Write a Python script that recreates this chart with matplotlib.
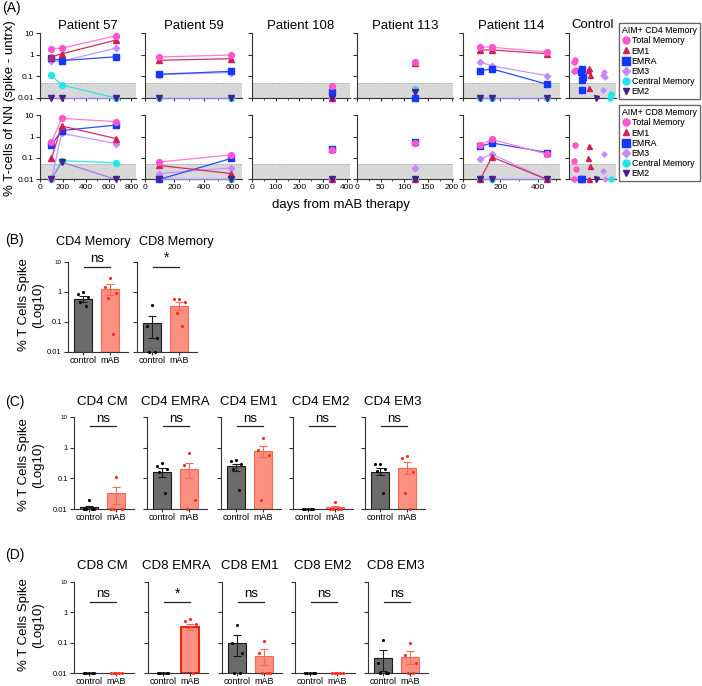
"""
Spike-specific memory T cells after mAB therapy: time courses (A) and
control vs mAB comparisons (B-D).
"""

import numpy as np
import matplotlib
matplotlib.use('Agg')
import matplotlib.pyplot as plt
from matplotlib.lines import Line2D
from matplotlib.ticker import FixedLocator, NullLocator, MultipleLocator

plt.rcParams['font.family'] = ['Liberation Sans', 'DejaVu Sans']

W, H = 702, 686

# ---------------- panel A data ----------------
SERIES = ['Total Memory', 'EM1', 'EMRA', 'EM3', 'Central Memory', 'EM2']

P57_DAYS = [100, 190, 665]
P57_CD4 = {'Total Memory': [1.9, 2.0, 7.5], 'EM1': [0.8, 1.1, 4.7],
           'EMRA': [0.68, 0.53, 0.8], 'EM3': [0.5, 0.5, 2.0],
           'Central Memory': [0.11, 0.04, 0.01], 'EM2': [0.01, 0.01, 0.01]}
P57_CD8 = {'Total Memory': [0.53, 7.0, 4.9], 'EM1': [0.095, 3.1, 0.8],
           'EMRA': [0.4, 1.9, 3.4], 'EM3': [0.01, 1.4, 0.47],
           'Central Memory': [0.01, 0.075, 0.06], 'EM2': [0.01, 0.065, 0.01]}

P59_DAYS = [95, 585]
P59_CD4 = {'Total Memory': [0.78, 0.97], 'EM1': [0.55, 0.65],
           'EMRA': [0.125, 0.17], 'EM3': [0.12, 0.15],
           'Central Memory': [0.01, 0.01], 'EM2': [0.01, 0.01]}
P59_CD8 = {'Total Memory': [0.065, 0.14], 'EM1': [0.045, 0.019],
           'EMRA': [0.01, 0.095], 'EM3': [0.019, 0.035],
           'Central Memory': [0.01, 0.01], 'EM2': [0.01, 0.01]}

P108_DAYS = [340]
P108_CD4 = {'Total Memory': [0.035], 'EM1': [0.01], 'EMRA': [0.018],
            'EM3': [0.01], 'Central Memory': [0.01], 'EM2': [0.01]}
P108_CD8 = {'Total Memory': [0.23], 'EM1': [0.01], 'EMRA': [0.26],
            'EM3': [0.01], 'Central Memory': [0.01], 'EM2': [0.01]}

P113_DAYS = [123]
P113_CD4 = {'Total Memory': [0.46], 'EM1': [0.4], 'EMRA': [0.01],
            'EM3': [0.024], 'Central Memory': [0.027], 'EM2': [0.018]}
P113_CD8 = {'Total Memory': [0.48], 'EM1': [0.01], 'EMRA': [0.53],
            'EM3': [0.035], 'Central Memory': [0.01], 'EM2': [0.01]}

P114_DAYS = [92, 155, 452]
P114_CD4 = {'Total Memory': [2.3, 2.2, 1.3], 'EM1': [1.65, 1.65, 1.1],
            'EMRA': [0.18, 0.22, 0.043], 'EM3': [0.46, 0.3, 0.107],
            'Central Memory': [0.01, 0.01, 0.01], 'EM2': [0.01, 0.01, 0.01]}
P114_CD8 = {'Total Memory': [0.4, 0.73, 0.15], 'EM1': [0.01, 0.11, 0.01],
            'EMRA': [0.35, 0.5, 0.18], 'EM3': [0.09, 0.15, 0.01],
            'Central Memory': [0.01, 0.01, 0.01], 'EM2': [0.01, 0.01, 0.01]}

PATIENTS = ['Patient 57', 'Patient 59', 'Patient 108', 'Patient 113', 'Patient 114']

CTRL_ORDER = ['Total Memory', 'EMRA', 'EM1', 'EM2', 'EM3', 'Central Memory']
CTRL_CD4 = {'Total Memory': [0.55, 0.45, 0.2, 0.17],
            'EMRA': [0.21, 0.165, 0.092, 0.068, 0.024],
            'EM1': [0.24, 0.2, 0.116, 0.028], 'EM2': [0.01],
            'EM3': [0.165, 0.116, 0.092, 0.024],
            'Central Memory': [0.0155, 0.01]}
CTRL_CD8 = {'Total Memory': [0.39, 0.073, 0.032, 0.01],
            'EMRA': [0.01, 0.01], 'EM1': [0.37, 0.095, 0.041, 0.01],
            'EM2': [0.01], 'EM3': [0.15, 0.024, 0.01],
            'Central Memory': [0.01]}

# ---------------- panels B-D data ----------------
B_TITLES = ['CD4 Memory', 'CD8 Memory']
B_CTRL_PTS = [[1.0, 0.85, 0.7, 0.45, 0.35], [0.37, 0.075, 0.03, 0.01, 0.01]]
B_MAB_PTS = [[2.9, 1.5, 0.9, 0.62, 0.039], [0.57, 0.57, 0.48, 0.2, 0.075]]
B_CTRL_MEAN = [0.58, 0.09]
B_MAB_MEAN = [1.23, 0.35]
B_CTRL_ERR = [(0.45, 0.75), (0.03, 0.16)]
B_MAB_ERR = [(0.8, 1.85), (0.25, 0.47)]
B_SIG = ['ns', '*']

C_TITLES = ['CD4 CM', 'CD4 EMRA', 'CD4 EM1', 'CD4 EM2', 'CD4 EM3']
C_CTRL_PTS = [[0.02, 0.01, 0.01, 0.01, 0.01], [0.32, 0.25, 0.2, 0.16, 0.034],
              [0.41, 0.37, 0.3, 0.2, 0.043], [0.01, 0.01, 0.01, 0.01, 0.01],
              [0.29, 0.29, 0.2, 0.17, 0.034]]
C_MAB_PTS = [[0.11, 0.01, 0.01, 0.01], [0.65, 0.27, 0.02, 0.01],
             [2.0, 0.83, 0.57, 0.02], [0.017, 0.01, 0.01, 0.01, 0.01],
             [0.55, 0.45, 0.16, 0.034, 0.01]]
C_CTRL_MEAN = [0.0115, 0.158, 0.25, 0.01, 0.165]
C_MAB_MEAN = [0.033, 0.2, 0.76, 0.0115, 0.22]
C_CTRL_ERR = [(0.01, 0.013), (0.11, 0.22), (0.17, 0.3), (0.01, 0.01), (0.13, 0.22)]
C_MAB_ERR = [(0.0147, 0.052), (0.1, 0.32), (0.48, 1.15), (0.01, 0.013), (0.14, 0.33)]
C_SIG = ['ns', 'ns', 'ns', 'ns', 'ns']

D_TITLES = ['CD8 CM', 'CD8 EMRA', 'CD8 EM1', 'CD8 EM2', 'CD8 EM3']
D_CTRL_PTS = [[0.01, 0.01, 0.01, 0.01, 0.01], [0.01, 0.01, 0.01, 0.01, 0.01],
              [0.38, 0.1, 0.044, 0.01, 0.01], [0.01, 0.01, 0.01, 0.01, 0.01],
              [0.12, 0.022, 0.01, 0.01, 0.01]]
D_MAB_PTS = [[0.01, 0.01, 0.01, 0.01, 0.01], [0.59, 0.5, 0.4, 0.34, 0.01],
             [0.11, 0.047, 0.01, 0.01, 0.01], [0.01, 0.01, 0.01, 0.01, 0.01],
             [0.1, 0.04, 0.022, 0.01, 0.01]]
D_CTRL_MEAN = [0.01, 0.01, 0.1, 0.01, 0.032]
D_MAB_MEAN = [0.01, 0.32, 0.036, 0.01, 0.034]
D_CTRL_ERR = [(0.01, 0.01), (0.01, 0.01), (0.036, 0.18), (0.01, 0.01), (0.012, 0.057)]
D_MAB_ERR = [(0.01, 0.01), (0.27, 0.4), (0.018, 0.06), (0.01, 0.01), (0.02, 0.055)]
D_SIG = ['ns', '*', 'ns', 'ns', 'ns']

# ---------------- styles ----------------
MARKER_COLOR = {'Total Memory': '#ff55cc', 'EM1': '#d11f57', 'EMRA': '#1238ff',
                'EM3': '#c48aff', 'Central Memory': '#22e5e8', 'EM2': '#4a1f8a'}
LINE_COLOR = {'Total Memory': '#ff7ad8', 'EM1': '#d0305e', 'EMRA': '#2a4cff',
              'EM3': '#c993ff', 'Central Memory': '#30e6e8', 'EM2': '#a57ce8'}
MARKER = {'Total Memory': 'o', 'EM1': '^', 'EMRA': 's', 'EM3': 'D',
          'Central Memory': 'o', 'EM2': 'v'}
MSIZE = {'Total Memory': 4.2, 'EM1': 4.2, 'EMRA': 4.5, 'EM3': 3.2,
         'Central Memory': 4.2, 'EM2': 4.2}
DRAW_ORDER = ['Central Memory', 'EM3', 'EMRA', 'EM1', 'Total Memory', 'EM2']

CTRL_BAR = '#6b6b6b'
MAB_BAR = '#fb8f80'
MAB_EDGE = '#f46a5a'
MAB_DOT = '#ff2a18'
AX_COLOR = '#333333'


def px_axes(fig, x0, y0, x1, y1):
    return fig.add_axes([x0 / W, 1 - y1 / H, (x1 - x0) / W, (y1 - y0) / H])


def log_y(ax, labels, size=6):
    ax.set_yscale('log')
    ax.set_ylim(0.01, 10)
    ax.yaxis.set_major_locator(FixedLocator([0.01, 0.1, 1, 10]))
    ax.yaxis.set_minor_locator(NullLocator())
    if labels:
        ax.set_yticklabels(['0.01', '0.1', '1', '10'], fontsize=size)
    else:
        ax.set_yticklabels([])
    for s in ['top', 'right']:
        ax.spines[s].set_visible(False)
    for s in ['left', 'bottom']:
        ax.spines[s].set_color(AX_COLOR)
        ax.spines[s].set_linewidth(0.8)
    ax.tick_params(axis='y', length=3, width=0.8, color=AX_COLOR, pad=1.5)


def time_panel(ax, days, data, xlim, step, xlabels, ylabels):
    log_y(ax, ylabels)
    ax.axhspan(0.01, 0.05, color='#d8d8d8', zorder=0, lw=0)
    ax.axhline(0.05, color='#9a9a9a', lw=0.6, ls=':', zorder=0.5)
    ax.set_xlim(*xlim)
    ax.xaxis.set_major_locator(MultipleLocator(step))
    ax.xaxis.set_minor_locator(MultipleLocator(step / 2))
    ax.tick_params(axis='x', which='major', length=2.5, width=0.8,
                   color=AX_COLOR, labelsize=6, pad=1)
    ax.tick_params(axis='x', which='minor', length=1.5, width=0.6, color=AX_COLOR)
    if not xlabels:
        ax.set_xticklabels([])
    for name in DRAW_ORDER:
        ax.plot(days, data[name], color=LINE_COLOR[name], lw=0.9,
                marker=MARKER[name], ms=MSIZE[name], mfc=MARKER_COLOR[name],
                mec=MARKER_COLOR[name], clip_on=False, zorder=3)


def control_panel(ax, data):
    log_y(ax, False)
    ax.axhspan(0.01, 0.05, color='#d8d8d8', zorder=0, lw=0)
    ax.axhline(0.05, color='#9a9a9a', lw=0.6, ls=':', zorder=0.5)
    ax.set_xlim(-0.8, 5.7)
    ax.set_xticks([])
    for i, name in enumerate(CTRL_ORDER):
        vals = data[name]
        jit = np.array([0, -0.12, 0.12, -0.06, 0.06])[:len(vals)]
        ax.plot(i + jit, vals, ls='none', marker=MARKER[name], ms=MSIZE[name] - 0.6,
                mfc=MARKER_COLOR[name], mec=MARKER_COLOR[name], clip_on=False, zorder=3)


def bar_panel(ax, ctrl_pts, mab_pts, ctrl_mean, mab_mean, ctrl_err, mab_err,
              sig, sig_y, ylabels, strong_edge=False):
    log_y(ax, ylabels, size=5.5)
    if ylabels:
        ax.get_yticklabels()[-1].set_fontsize(4.5)
    ax.set_xlim(-0.55, 1.65)
    ax.set_xticks([0, 1])
    ax.set_xticklabels(['control', 'mAB'], fontsize=6.5)
    ax.tick_params(axis='x', length=2, width=0.8, color=AX_COLOR, pad=1)

    ax.bar(0, ctrl_mean - 0.01, bottom=0.01, width=0.65, color=CTRL_BAR,
           edgecolor='#1a1a1a', lw=0.8, zorder=1)
    ax.bar(1, mab_mean - 0.01, bottom=0.01, width=0.65, color=MAB_BAR,
           edgecolor='#ff1a00' if strong_edge else MAB_EDGE,
           lw=1.4 if strong_edge else 0.8, zorder=1)

    for x, m, (lo, hi), col in [(0, ctrl_mean, ctrl_err, '#1a1a1a'),
                                (1, mab_mean, mab_err, MAB_EDGE)]:
        if hi > lo:
            ax.errorbar(x, m, yerr=[[m - lo], [hi - m]], color=col, lw=0.8,
                        capsize=3, capthick=0.8, zorder=2)

    pattern = np.array([0, -0.2, 0.2, -0.1, 0.1])
    for x, pts, col in [(0, ctrl_pts, '#000000'), (1, mab_pts, MAB_DOT)]:
        offs = pattern[:len(pts)]
        ax.scatter(x + offs, pts, s=5, color=col, zorder=4, clip_on=False, lw=0)

    ax.plot([0.05, 1.0], [sig_y, sig_y], color='#222222', lw=0.9, clip_on=False)
    ax.text(0.525, sig_y * 1.12, sig, ha='center', va='bottom',
            fontsize=9.5 if sig == 'ns' else 10, clip_on=False)


fig = plt.figure(figsize=(W / 100, H / 100), dpi=100)

# ---------------- panel A ----------------
cols = [(40, 136), (145, 242), (252, 350), (357, 453), (463, 560)]
xlims = [(0, 840), (0, 660), (0, 414), (0, 203), (0, 520)]
steps = [200, 200, 100, 50, 200]
days_all = [P57_DAYS, P59_DAYS, P108_DAYS, P113_DAYS, P114_DAYS]
cd4_all = [P57_CD4, P59_CD4, P108_CD4, P113_CD4, P114_CD4]
cd8_all = [P57_CD8, P59_CD8, P108_CD8, P113_CD8, P114_CD8]

for i, (x0, x1) in enumerate(cols):
    ax_top = px_axes(fig, x0, 33, x1, 98)
    time_panel(ax_top, days_all[i], cd4_all[i], xlims[i], steps[i], False, i == 0)
    fig.text((x0 + x1) / 2 / W, 1 - 26 / H, PATIENTS[i], ha='center',
             va='center', fontsize=9.5)
    ax_bot = px_axes(fig, x0, 115, x1, 179.5)
    time_panel(ax_bot, days_all[i], cd8_all[i], xlims[i], steps[i], True, i == 0)

ax_c4 = px_axes(fig, 569, 33, 616, 98)
control_panel(ax_c4, CTRL_CD4)
ax_c8 = px_axes(fig, 569, 115, 616, 179.5)
control_panel(ax_c8, CTRL_CD8)
fig.text(593 / W, 1 - 25 / H, 'Control', ha='center', va='center', fontsize=9.5)

handles = [Line2D([], [], ls='none', marker=MARKER[n], ms=MSIZE[n] + 0.8,
                  mfc=MARKER_COLOR[n], mec=MARKER_COLOR[n]) for n in SERIES]
for title, ytop in [('AIM+ CD4 Memory', 23), ('AIM+ CD8 Memory', 105)]:
    leg = fig.legend(handles, SERIES, title=title, loc='upper left',
                     bbox_to_anchor=(619 / W, 1 - ytop / H), borderaxespad=0,
                     fontsize=6.3, title_fontsize=6.3, frameon=True,
                     fancybox=False, edgecolor='#555555', handlelength=0.8,
                     handletextpad=0.3, labelspacing=0.14, borderpad=0.35,
                     alignment='left')
    leg.get_frame().set_linewidth(0.9)
    fig.add_artist(leg)

fig.text(2 / W, 1 - 8 / H, '(A)', ha='left', va='center', fontsize=10)
fig.text(10 / W, 1 - 108 / H, '% T-cells of NN (spike - untrx)', rotation=90,
         ha='center', va='center', fontsize=9.5)
fig.text(341 / W, 1 - 205 / H, 'days from mAB therapy', ha='center',
         va='center', fontsize=9.5)

# ---------------- panels B-D ----------------
YLAB = '% T Cells Spike\n(Log10)'

fig.text(5 / W, 1 - 240 / H, '(B)', ha='left', va='center', fontsize=10)
b_title_x = [93, 176]
for i, x0 in enumerate([68, 137]):
    ax = px_axes(fig, x0, 262, x0 + 60, 352)
    bar_panel(ax, B_CTRL_PTS[i], B_MAB_PTS[i], B_CTRL_MEAN[i], B_MAB_MEAN[i],
              B_CTRL_ERR[i], B_MAB_ERR[i], B_SIG[i], 7, i == 0)
    fig.text(b_title_x[i] / W, 1 - 242 / H, B_TITLES[i], ha='center',
             va='center', fontsize=9.2)
fig.text(31 / W, 1 - 305 / H, YLAB, rotation=90, ha='center', va='center',
         fontsize=9.5, multialignment='center')

fig.text(5 / W, 1 - 402 / H, '(C)', ha='left', va='center', fontsize=10)
for i, x0 in enumerate([74, 147, 221, 293, 365]):
    ax = px_axes(fig, x0, 417, x0 + 60, 509)
    bar_panel(ax, C_CTRL_PTS[i], C_MAB_PTS[i], C_CTRL_MEAN[i], C_MAB_MEAN[i],
              C_CTRL_ERR[i], C_MAB_ERR[i], C_SIG[i], 5, i == 0)
    fig.text((x0 + 28) / W, 1 - 402 / H, C_TITLES[i], ha='center',
             va='center', fontsize=9.5)
fig.text(31 / W, 1 - 465 / H, YLAB, rotation=90, ha='center', va='center',
         fontsize=9.5, multialignment='center')

fig.text(5 / W, 1 - 555 / H, '(D)', ha='left', va='center', fontsize=10)
for i, x0 in enumerate([74, 148, 222, 295, 368]):
    ax = px_axes(fig, x0, 582, x0 + 60, 673)
    bar_panel(ax, D_CTRL_PTS[i], D_MAB_PTS[i], D_CTRL_MEAN[i], D_MAB_MEAN[i],
              D_CTRL_ERR[i], D_MAB_ERR[i], D_SIG[i], 2.2, i == 0,
              strong_edge=(i == 1))
    fig.text((x0 + 28) / W, 1 - 566 / H, D_TITLES[i], ha='center',
             va='center', fontsize=9.5)
fig.text(31 / W, 1 - 625 / H, YLAB, rotation=90, ha='center', va='center',
         fontsize=9.5, multialignment='center')

fig.savefig('out.png', dpi=100)
plt.close(fig)
